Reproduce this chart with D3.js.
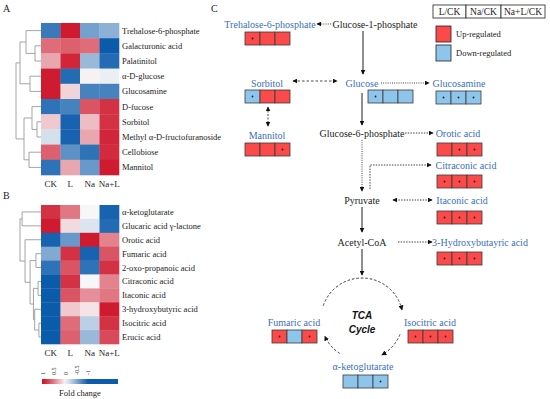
<!DOCTYPE html>
<html>
<head>
<meta charset="utf-8">
<script src="https://cdn.jsdelivr.net/npm/d3@7"></script>
<style>
  body { margin: 0; background: #fff; }
  svg { display: block; }
</style>
</head>
<body>
<svg width="550" height="399" font-family="'Liberation Serif', 'Times New Roman', 'DejaVu Serif', serif"></svg>
<script>
// ---- heatmap data ----
var samples = ["CK", "L", "Na", "Na+L"];

var sugarNames = ["Trehalose-6-phosphate", "Galacturonic acid", "Palatinitol", "\u03b1-D-glucose",
  "Glucosamine", "D-fucose", "Sorbitol", "Methyl \u03b1-D-fructofuranoside", "Cellobiose", "Mannitol"];
var sugarValues = [
  [-0.8, 0.95, -0.55, -0.45],
  [0.6, 0.65, 0.6, -1],
  [0.35, 0.9, -0.4, -0.9],
  [0.95, -0.9, 0.02, -0.05],
  [0.95, 0.15, -0.75, -0.75],
  [-0.85, -0.75, 0.7, 0.85],
  [0.2, -0.95, 0.25, 0.85],
  [-0.15, -0.95, 0.35, 0.9],
  [0.65, -0.65, -0.85, 0.88],
  [-0.85, 0.35, -0.6, 0.95]
];

var acidNames = ["\u03b1-ketoglutarate", "Glucaric acid \u03b3-lactone", "Orotic acid", "Fumaric acid",
  "2-oxo-propanoic acid", "Citraconic acid", "Itaconic acid", "3-hydroxybutyric acid", "Isocitric acid", "Erucic acid"];
var acidValues = [
  [0.85, 0.55, 0.0, -0.95],
  [0.95, 0.12, -0.12, -0.9],
  [-0.95, -0.6, 0.95, 0.5],
  [-0.5, 0.85, -0.95, 0.7],
  [-0.85, 0.7, -0.85, 0.85],
  [-1, 0.85, 0.0, 0.5],
  [-1, 0.7, 0.45, 0.55],
  [-1, 0.2, 0.08, 0.95],
  [-1, 0.6, -0.25, 0.85],
  [-1, 0.65, -0.4, 0.75]
];

var foldTicks = [1, 0.5, 0, -0.5, -1];

// dendrograms: h = merge height (root 1), leaves are row indices
var sugarTree = {h: 1, c: [
  {h: 0.84, c: [{h: 0.6, c: [0, {h: 0.24, c: [1, 2]}]}, {h: 0.44, c: [3, 4]}]},
  {h: 0.68, c: [{h: 0.36, c: [5, {h: 0.16, c: [6, 7]}]}, {h: 0.48, c: [8, 9]}]}
]};
var acidTree = {h: 1, c: [
  {h: 0.9, c: [0, 1]},
  {h: 0.76, c: [2, {h: 0.52, c: [{h: 0.24, c: [3, 4]},
    {h: 0.36, c: [{h: 0.14, c: [5, 6]}, {h: 0.3, c: [7, {h: 0.1, c: [8, 9]}]}]}]}]}
]};

// ---- pathway data (panel C) ----
var ratioLabels = ["L/CK", "Na/CK", "Na+L/CK"];
var pathNames = ["Trehalose-6-phosphate", "Sorbitol", "Mannitol", "Glucose", "Glucosamine", "Orotic acid",
  "Citraconic acid", "Itaconic acid", "3-Hydroxybutayric acid", "Fumaric acid", "Isocitric acid", "\u03b1-ketoglutarate"];
var pathDirection = [
  [1, 1, 1], [-1, 1, 1], [1, 1, 1], [-1, -1, -1], [-1, -1, -1], [1, 1, 1],
  [1, 1, 1], [1, 1, 1], [1, 1, 1], [1, -1, 1], [1, 1, 1], [-1, -1, -1]
];
var pathSignificant = [
  [1, 0, 0], [1, 0, 0], [0, 0, 1], [1, 0, 0], [1, 1, 1], [0, 1, 1],
  [1, 1, 1], [1, 1, 1], [1, 1, 1], [1, 0, 1], [1, 1, 1], [0, 0, 1]
];
var pathwayNodes = ["Glucose-1-phosphate", "Glucose-6-phosphate", "Pyruvate", "Acetyl-CoA"];

var svg = d3.select("svg");
var color = d3.scaleLinear().domain([-1, 0, 1]).range(["#0b5bab", "#f7f7f8", "#cd0f24"]).clamp(true);

function heatmap(names, values, tree, top, bottom) {
  var g = svg.append("g");
  var x = d3.scaleBand().domain(samples).range([41, 119]);
  var y = d3.scaleBand().domain(d3.range(names.length)).range([top, bottom]);

  values.forEach(function(row, i) {
    g.selectAll(null).data(row).enter().append("rect")
      .attr("x", function(d, j) { return x(samples[j]); })
      .attr("y", y(i))
      .attr("width", x.bandwidth() + 0.3)
      .attr("height", y.bandwidth() + 0.3)
      .attr("fill", function(d) { return color(d); });
  });

  g.selectAll(".rowlab").data(names).enter().append("text")
    .attr("x", 122)
    .attr("y", function(d, i) { return y(i) + y.bandwidth() / 2; })
    .attr("dy", "0.35em")
    .attr("font-size", 8.5)
    .attr("fill", "#222")
    .text(function(d) { return d; });

  g.selectAll(".collab").data(samples).enter().append("text")
    .attr("x", function(d) { return x(d) + x.bandwidth() / 2; })
    .attr("y", bottom + 9)
    .attr("dy", "0.35em")
    .attr("text-anchor", "middle")
    .attr("font-size", 9)
    .attr("fill", "#222")
    .text(function(d) { return d; });

  // dendrogram
  var hx = d3.scaleLinear().domain([0, 1]).range([41, tree.rootX]);
  var root = d3.hierarchy(tree, function(d) { return d.c; });
  root.eachAfter(function(n) {
    if (n.children) {
      n.py = (n.children[0].py + n.children[1].py) / 2;
      n.px = hx(n.data.h);
    } else {
      n.py = y(n.data) + y.bandwidth() / 2;
      n.px = hx(0);
    }
  });
  root.each(function(n) {
    if (!n.children) return;
    var a = n.children[0], b = n.children[1];
    g.append("path")
      .attr("d", "M" + a.px + "," + a.py + "H" + n.px + "V" + b.py + "H" + b.px)
      .attr("fill", "none")
      .attr("stroke", "#9a9a9a")
      .attr("stroke-width", 0.9);
  });
}

sugarTree.rootX = 16;
acidTree.rootX = 20;
heatmap(sugarNames, sugarValues, sugarTree, 23, 175);
heatmap(acidNames, acidValues, acidTree, 205, 344);

// colour key
var key = d3.scaleLinear().domain([1.05, -2.35]).range([42, 118]);
var defs = svg.append("defs");
var grad = defs.append("linearGradient").attr("id", "fold");
d3.range(0, 1.001, 0.05).forEach(function(t) {
  var v = key.invert(42 + t * 76);
  grad.append("stop").attr("offset", t).attr("stop-color", color(v));
});
svg.append("rect").attr("x", 42).attr("y", 379).attr("width", 76).attr("height", 5).attr("fill", "url(#fold)");
svg.selectAll(".ktick").data(foldTicks).enter().append("text")
  .attr("transform", function(d) { return "translate(" + key(d) + ",375) rotate(-90)"; })
  .attr("dy", "0.35em")
  .attr("font-size", 6)
  .attr("fill", "#333")
  .text(function(d) { return d === 0 ? "0" : String(d); });
svg.append("text").attr("x", 80).attr("y", 396).attr("text-anchor", "middle")
  .attr("font-size", 8.5).attr("fill", "#222").text("Fold change");

// panel letters
[["A", 3, 12], ["B", 3, 199], ["C", 211, 12]].forEach(function(p) {
  svg.append("text").attr("x", p[1]).attr("y", p[2]).attr("font-size", 10).attr("fill", "#222").text(p[0]);
});

// ---- panel C ----
var up = "#fb4a4a", down = "#8ec5ea", blueText = "#3a6fba";

// label centre and box top-left for each metabolite
var layout = {
  "Trehalose-6-phosphate": [270, 24, 245, 32],
  "Sorbitol": [267, 83, 245, 90],
  "Mannitol": [267, 135, 245, 143],
  "Glucose": [362, 83, 368, 90],
  "Glucosamine": [459, 83, 436, 91],
  "Orotic acid": [458, 133, 437, 143],
  "Citraconic acid": [466, 165, 437, 175],
  "Itaconic acid": [462, 200, 437, 211],
  "3-Hydroxybutayric acid": [480, 242, 437, 252],
  "Fumaric acid": [294, 322, 272, 330],
  "Isocitric acid": [430, 322, 408, 330],
  "\u03b1-ketoglutarate": [363, 366, 343, 375]
};
var nodeLayout = {
  "Glucose-1-phosphate": [375, 24],
  "Glucose-6-phosphate": [362, 133],
  "Pyruvate": [362, 200],
  "Acetyl-CoA": [362, 242]
};

var cellW = 15, cellH = 13;
var pc = svg.append("g");

pathNames.forEach(function(name, i) {
  var L = layout[name];
  pc.append("text").attr("x", L[0]).attr("y", L[1]).attr("dy", "0.35em")
    .attr("text-anchor", "middle").attr("font-size", 10).attr("fill", blueText).text(name);
  var cells = pc.selectAll(null).data(pathDirection[i]).enter().append("g")
    .attr("transform", function(d, j) { return "translate(" + (L[2] + j * cellW) + "," + L[3] + ")"; });
  cells.append("rect").attr("width", cellW).attr("height", cellH)
    .attr("fill", function(d) { return d > 0 ? up : down; })
    .attr("stroke", "#3a3a3a").attr("stroke-width", 0.8);
  cells.filter(function(d, j) { return pathSignificant[i][j]; })
    .append("circle").attr("cx", cellW / 2).attr("cy", cellH / 2).attr("r", 0.9).attr("fill", "#222");
});

pathwayNodes.forEach(function(name) {
  var L = nodeLayout[name];
  pc.append("text").attr("x", L[0]).attr("y", L[1]).attr("dy", "0.35em")
    .attr("text-anchor", "middle").attr("font-size", 10).attr("fill", "#222").text(name);
});

defs.append("marker").attr("id", "arr").attr("viewBox", "0 0 8 8")
  .attr("refX", 7).attr("refY", 4).attr("markerWidth", 5).attr("markerHeight", 5)
  .attr("markerUnits", "userSpaceOnUse").attr("orient", "auto-start-reverse")
  .append("path").attr("d", "M0,0L8,4L0,8Z").attr("fill", "#111");

var links = [
  {p: [[331, 24], [317, 24]], s: "1,1.2", end: 1},
  {p: [[363, 31], [363, 74]], s: null, end: 1},
  {p: [[293, 81], [337, 81]], s: "2.5,2", end: 1, start: 1},
  {p: [[381, 83], [429, 83]], s: "1,1.2", end: 1},
  {p: [[268, 107], [268, 126]], s: "2,1.5", end: 1, start: 1},
  {p: [[362, 93], [362, 125]], s: null, end: 1},
  {p: [[405, 133], [433, 133]], s: "1.5,1.2", end: 1},
  {p: [[362, 140], [362, 191]], s: "1,1.2", end: 1},
  {p: [[370, 189], [370, 165], [431, 165]], s: "1.5,1.2", end: 1},
  {p: [[393, 200], [432, 200]], s: "1.5,1.2", end: 1, start: 1},
  {p: [[362, 207], [362, 232]], s: null, end: 1},
  {p: [[398, 242], [432, 242]], s: "1.5,1.2", end: 1},
  {p: [[362, 249], [362, 275]], s: null, end: 1}
];
var line = d3.line();
links.forEach(function(l) {
  var path = pc.append("path").attr("d", line(l.p)).attr("fill", "none")
    .attr("stroke", "#333").attr("stroke-width", l.s ? 0.9 : 1.1);
  if (l.s) path.attr("stroke-dasharray", l.s);
  if (l.end) path.attr("marker-end", "url(#arr)");
  if (l.start) path.attr("marker-start", "url(#arr)");
});

// TCA cycle arcs (degrees clockwise from top)
var tca = {cx: 362, cy: 319, r: 41};
var tcaArcs = [[-71, 77], [112, 151], [213, 245]];
tcaArcs.forEach(function(a) {
  var p = d3.path();
  var rad = Math.PI / 180;
  p.arc(tca.cx, tca.cy, tca.r, (a[0] - 90) * rad, (a[1] - 90) * rad, false);
  pc.append("path").attr("d", p.toString()).attr("fill", "none")
    .attr("stroke", "#333").attr("stroke-width", 1).attr("stroke-dasharray", "2.5,2")
    .attr("marker-end", "url(#arr)");
});
pc.append("text").attr("x", tca.cx).attr("y", 315).attr("text-anchor", "middle").attr("dy", "0.35em")
  .attr("font-family", "'Liberation Sans', Arial, sans-serif").attr("font-weight", "bold")
  .attr("font-style", "italic").attr("font-size", 10).attr("fill", "#111").text("TCA");
pc.append("text").attr("x", tca.cx).attr("y", 329).attr("text-anchor", "middle").attr("dy", "0.35em")
  .attr("font-family", "'Liberation Sans', Arial, sans-serif").attr("font-weight", "bold")
  .attr("font-style", "italic").attr("font-size", 10).attr("fill", "#111").text("Cycle");

// legend
var lg = svg.append("g");
var lx = d3.scaleOrdinal().domain(ratioLabels).range([[433, 33], [466, 35], [501, 44]]);
ratioLabels.forEach(function(r) {
  var b = lx(r);
  lg.append("rect").attr("x", b[0]).attr("y", 5).attr("width", b[1]).attr("height", 13)
    .attr("fill", "#fff").attr("stroke", "#222").attr("stroke-width", 0.8);
  lg.append("text").attr("x", b[0] + b[1] / 2).attr("y", 11.5).attr("dy", "0.35em")
    .attr("text-anchor", "middle").attr("font-size", 9.5).attr("fill", "#222").text(r);
});
[["Up-regulated", up, 26], ["Down-regulated", down, 45]].forEach(function(d) {
  lg.append("rect").attr("x", 436).attr("y", d[2]).attr("width", 15).attr("height", 16)
    .attr("fill", d[1]).attr("stroke", "#222").attr("stroke-width", 0.8);
  lg.append("text").attr("x", 456).attr("y", d[2] + 8).attr("dy", "0.35em")
    .attr("font-size", 8.5).attr("fill", "#222").text(d[0]);
});
</script>
</body>
</html>
